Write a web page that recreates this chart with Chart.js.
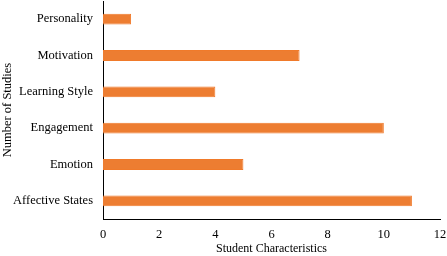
<!DOCTYPE html>
<html>
<head>
<meta charset="utf-8">
<script src="https://cdn.jsdelivr.net/npm/chart.js@4"></script>
<style>
html,body{margin:0;padding:0;background:#fff;}
#wrap{width:447px;height:256px;}
</style>
</head>
<body>
<div id="wrap"><canvas id="c" width="447" height="256"></canvas></div>
<script>
const categories = ["Personality", "Motivation", "Learning Style", "Engagement", "Emotion", "Affective States"];
const studyCounts = [1, 7, 4, 10, 5, 11];
const xTicks = [0, 2, 4, 6, 8, 10, 12];
const xTitle = "Student Characteristics";
const yTitle = "Number of Studies";

const FONT = "'Liberation Serif', 'Times New Roman', serif";

new Chart(document.getElementById('c'), {
  type: 'bar',
  data: {
    labels: categories,
    datasets: [{
      data: studyCounts,
      backgroundColor: '#ED7D31',
      borderColor: '#F07A2A',
      borderWidth: 1,
      barPercentage: 0.3,
      categoryPercentage: 1.0
    }]
  },
  options: {
    indexAxis: 'y',
    responsive: false,
    animation: false,
    layout: { padding: { top: 1, right: 0, left: 0, bottom: 0 } },
    plugins: { legend: { display: false }, tooltip: { enabled: false } },
    scales: {
      x: {
        min: 0, max: 12,
        afterBuildTicks: (s) => { s.ticks = xTicks.map(v => ({ value: v })); },
        grid: { display: false, drawTicks: false },
        border: { display: true, color: '#000', width: 1 },
        ticks: { color: '#000', font: { family: FONT, size: 12.5 }, padding: 8, maxRotation: 0 },
        title: { display: true, text: xTitle, color: '#000', font: { family: FONT, size: 12 }, padding: { top: 0, bottom: 0 } },
        afterFit: (s) => { s.height = 37; s.paddingLeft = 0; s.paddingRight = 7; s.paddingTop = 0; s.paddingBottom = 0; }
      },
      y: {
        grid: { display: false, drawTicks: false },
        border: { display: true, color: '#000', width: 1 },
        ticks: { color: '#000', font: { family: FONT, size: 12.5 }, padding: 10 },
        title: { display: true, text: yTitle, color: '#000', font: { family: FONT, size: 12.5 }, padding: { top: 0, bottom: 0 } },
        afterFit: (s) => { s.width = 103; s.paddingTop = 0; s.paddingBottom = 0; s.paddingLeft = 0; s.paddingRight = 0; }
      }
    }
  }
});
</script>
</body>
</html>
